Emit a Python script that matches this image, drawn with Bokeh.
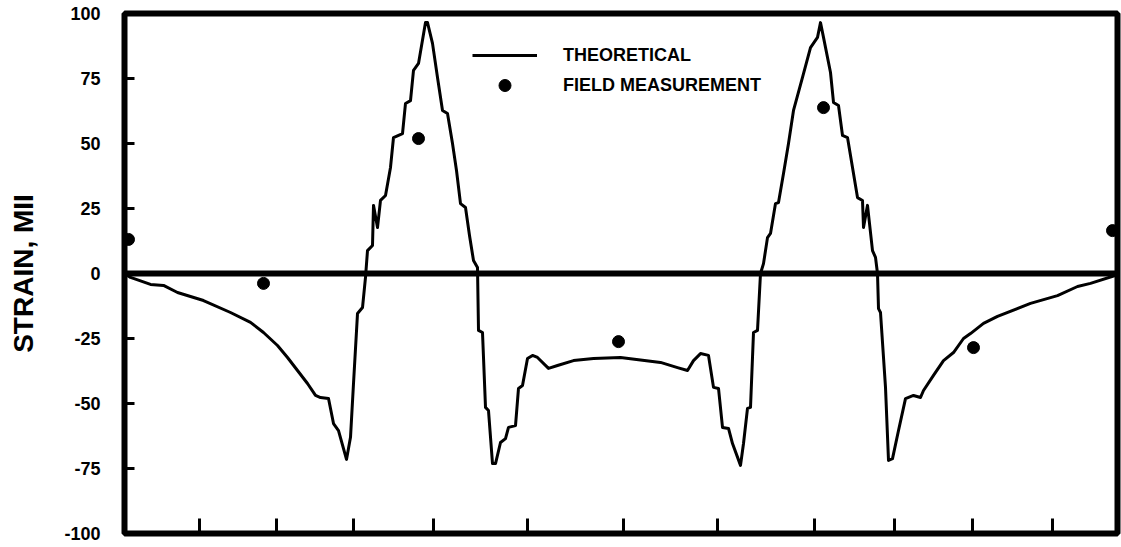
from bokeh.plotting import figure
from bokeh.models import Range1d, FixedTicker, Span, Legend, LegendItem
from bokeh.embed import file_html
from bokeh.resources import INLINE

# Position along the structure (plot units) and theoretical strain (mil)
pos = [0, 6, 26, 39, 53, 79, 106, 126, 139, 153, 163, 173, 183, 191, 196, 204,
       209, 214, 222, 226, 229, 233, 238, 241, 243, 248, 249, 253, 256, 261,
       266, 269, 278, 281, 286, 289, 294, 301, 303, 308, 313, 318, 323, 328,
       332, 336, 341, 345, 349, 353, 354, 358, 361, 364, 368, 371, 376, 381,
       384, 391, 394, 398, 403, 408, 413, 424, 433, 449, 469, 496, 536, 553,
       563, 569, 576, 584, 589, 594, 598, 604, 608, 616, 619, 623, 626, 629,
       633, 636, 639, 643, 646, 651, 654, 659, 664, 669, 678, 686, 693, 696,
       699, 706, 709, 714, 718, 723, 728, 733, 738, 739, 743, 748, 751, 753,
       754, 756, 761, 764, 768, 774, 781, 789, 796, 799, 809, 819, 829, 839,
       846, 859, 873, 906, 933, 953, 966, 993]
theoretical = [0, -1.5, -4.2, -4.6, -7.3, -10.4, -15.0, -18.8, -22.7, -27.7,
               -32.3, -37.3, -42.3, -46.9, -47.7, -48.1, -57.7, -60.4, -71.5,
               -63.0, -42.3, -15.4, -13.1, -1.5, 8.8, 10.8, 26.2, 17.7, 28.1,
               30.0, 40.8, 52.3, 53.8, 65.4, 66.5, 78.1, 80.8, 96.5, 96.5,
               88.5, 75.4, 62.7, 61.5, 50.0, 39.6, 26.9, 25.4, 14.6, 5.0, 2.3,
               -21.9, -22.7, -51.5, -52.7, -73.1, -73.1, -65.0, -63.5, -59.2,
               -58.5, -44.2, -43.1, -32.7, -31.5, -32.3, -36.5, -35.4, -33.5,
               -32.7, -32.3, -34.2, -36.2, -37.3, -33.5, -30.8, -31.5, -43.8,
               -44.2, -59.2, -59.6, -65.4, -73.8, -65.4, -51.9, -51.5, -22.7,
               -21.9, 0.0, 3.8, 13.8, 15.4, 26.9, 27.3, 38.5, 50.0, 62.7, 75.4,
               86.9, 90.8, 96.5, 90.8, 77.3, 65.8, 64.6, 53.1, 52.3, 40.8, 29.2,
               28.1, 17.7, 26.2, 8.8, 6.2, 0.0, -13.5, -15.0, -43.8, -71.9,
               -71.2, -60.4, -48.1, -46.9, -47.7, -45.0, -39.2, -33.5, -30.4,
               -25.0, -23.1, -19.2, -16.5, -11.5, -8.5, -5.0, -3.8, -0.5]

# Measured strains at the gauge locations
field_pos = [4, 139, 294, 494, 699, 849, 988]
field_strain = [13.1, -3.8, 51.9, -26.2, 63.8, -28.5, 16.5]

x_ticks = [75, 152, 229, 309, 403, 499, 593, 690, 770, 848, 928]
y_ticks = [100, 75, 50, 25, 0, -25, -50, -75, -100]
y_tick_labels = ["100", "75", "50", "25", "0", "-25", "-50", "-75", "-100"]

FONT = "Liberation Sans"

p = figure(width=1121, height=547, output_backend="svg", toolbar_location=None,
           x_range=Range1d(0, 993), y_range=Range1d(-100, 100),
           min_border_left=124, min_border_right=4, min_border_top=13,
           min_border_bottom=14)

p.background_fill_color = "white"
p.border_fill_color = "white"
p.outline_line_color = "black"
p.outline_line_width = 6
p.xgrid.visible = False
p.ygrid.visible = False

# y axis: inside ticks, bold labels with plain hyphens
p.yaxis.ticker = FixedTicker(ticks=y_ticks)
p.yaxis.major_label_overrides = dict(zip(y_ticks, y_tick_labels))
p.yaxis.axis_line_color = None
p.yaxis.major_tick_in = 10
p.yaxis.major_tick_out = 0
p.yaxis.major_tick_line_width = 3
p.yaxis.minor_tick_line_color = None
p.yaxis.major_label_standoff = 24
p.yaxis.major_label_text_font = FONT
p.yaxis.major_label_text_font_style = "bold"
p.yaxis.major_label_text_font_size = "18px"
p.yaxis.major_label_text_color = "black"
p.yaxis.axis_label = "STRAIN, MII"
p.yaxis.axis_label_text_font = FONT
p.yaxis.axis_label_text_font_style = "bold"
p.yaxis.axis_label_text_font_size = "28px"
p.yaxis.axis_label_text_color = "black"
p.yaxis.axis_label_standoff = 22

# x axis: tick marks only
p.xaxis.ticker = FixedTicker(ticks=x_ticks)
p.xaxis.axis_line_color = None
p.xaxis.major_tick_in = 15
p.xaxis.major_tick_out = 0
p.xaxis.major_tick_line_width = 3
p.xaxis.minor_tick_line_color = None
p.xaxis.major_label_text_font_size = "0px"
p.xaxis.major_label_text_alpha = 0
p.xaxis.major_label_standoff = 0

p.add_layout(Span(location=0, dimension="width", line_color="black", line_width=6))

line_r = p.line(pos, theoretical, line_width=3, line_color="black",
                line_join="round")
dots_r = p.scatter(field_pos, field_strain, size=12, fill_color="black",
                   line_color="black")

legend = Legend(
    items=[LegendItem(label="THEORETICAL", renderers=[line_r]),
           LegendItem(label="FIELD MEASUREMENT", renderers=[dots_r])],
    location=(348, 433),
    glyph_width=65, glyph_height=30, label_height=30, label_standoff=26,
    spacing=-8, padding=0, margin=0,
    border_line_color=None, background_fill_alpha=0,
    label_text_font=FONT, label_text_font_style="bold",
    label_text_font_size="18px", label_text_color="black",
)
p.add_layout(legend)

open("out.html", "w").write(file_html(p, INLINE))
